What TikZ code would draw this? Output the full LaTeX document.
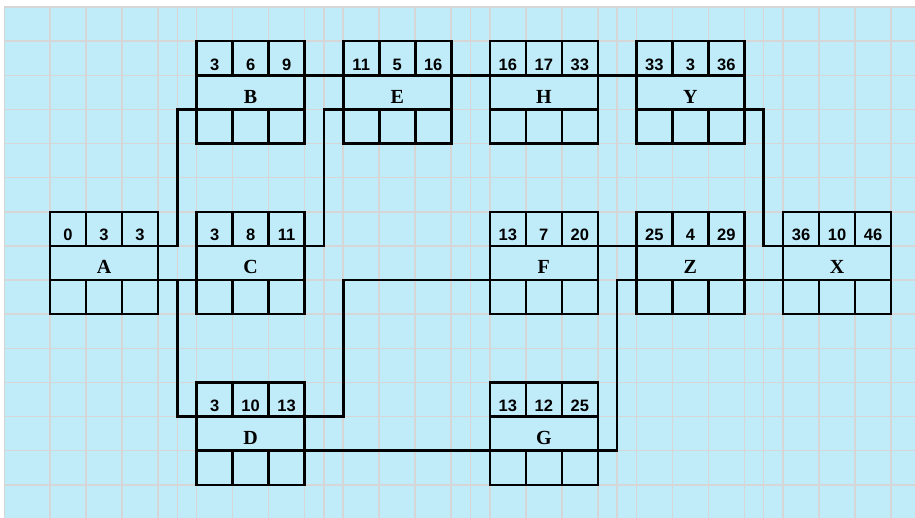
\documentclass[tikz,border=0pt]{standalone}
\usepackage{fontspec}
\setmainfont{Liberation Serif}
\newfontfamily\numfont{Liberation Sans}
\usepackage{xcolor}
\definecolor{sky}{HTML}{C0ECFA}
\definecolor{gridgray}{HTML}{D6D6D6}
\usepackage{tikz}
\usetikzlibrary{positioning,calc}

\begin{document}
\begin{tikzpicture}[
  x=1pt,
  y=-1pt,
  namecell/.style={draw, fill=sky, line width=2.6pt, outer sep=0pt, inner sep=0pt,
    minimum width=108pt, minimum height=34.13pt,
    font=\fontsize{20}{21}\selectfont\bfseries, text height=22pt, text depth=0pt},
  numcell/.style={draw, line width=2.6pt, outer sep=0pt, inner sep=0pt,
    minimum width=36pt, minimum height=34.13pt,
    font=\numfont\fontsize{16.5}{18}\selectfont\bfseries, text height=24pt, text depth=0pt},
  gridline/.style={gridgray, line width=1.5pt},
  link/.style={line width=2.6pt},
]

% Sheet
\useasboundingbox (0,0) rectangle (915,518);
\fill[sky] (4,7) rectangle (915,518);

% Grid lines: horizontals
\foreach \j in {0,...,14}
  \draw[gridline] (4,{7+34.133*\j}) -- (915,{7+34.133*\j});

% Grid lines: verticals
\draw[gridline] (4.5,7) -- (4.5,518);
\foreach \k in {0,...,5}
  \foreach \dx in {0,36,72,108}
    \draw[gridline] ({50+146.6*\k+\dx},7) -- ++(0,511);
\foreach \k in {0,...,4}
  \draw[gridline] ({177.3+146.6*\k},7) -- ++(0,511);

% Activity boxes: name row, then start / duration / finish above, empty row below
\foreach \n/\x/\y/\es/\du/\ef in {A/104/263/0/3/3,
                                B/250.6/92.3/3/6/9,
                                C/250.6/263/3/8/11,
                                D/250.6/433.7/3/10/13,
                                E/397.2/92.3/11/5/16,
                                H/543.8/92.3/16/17/33,
                                F/543.8/263/13/7/20,
                                G/543.8/433.7/13/12/25,
                                Y/690.4/92.3/33/3/36,
                                Z/690.4/263/25/4/29,
                                X/837/263/36/10/46} {
  \node[namecell] (\n) at (\x,\y) {\n};
  \node[numcell, above right=0pt and 0pt of \n.north west] (\n-es) {\es};
  \node[numcell, right=0pt of \n-es] (\n-du) {\du};
  \node[numcell, right=0pt of \n-du] (\n-ef) {\ef};
  \node[numcell, below right=0pt and 0pt of \n.south west] (\n-b1) {};
  \node[numcell, right=0pt of \n-b1] (\n-b2) {};
  \node[numcell, right=0pt of \n-b2] (\n-b3) {};
}

% Straight links
\foreach \a/\b in {A/C, D/G, Z/X}
  \draw[link] (\a.south east) -- (\b.south west);
\foreach \a/\b in {B/E, E/H, H/Y, F/Z}
  \draw[link] (\a.north east) -- (\b.north west);

% Elbow links
\draw[link] (A.north east) -- ++(19.3,0) |- (B.south west);
\draw[link] (A.south east) -- ++(19.3,0) |- (D.north west);
\draw[link] (C.north east) -- ++(19.3,0) |- (E.south west);
\draw[link] (D.north east) -| (E.west |- F.south west) -- (F.south west);
\draw[link] (G.south east) -- ++(19.3,0) |- (Z.south west);
\draw[link] (Y.south east) -- ++(19.3,0) |- (X.north west);

\end{tikzpicture}
\end{document}
